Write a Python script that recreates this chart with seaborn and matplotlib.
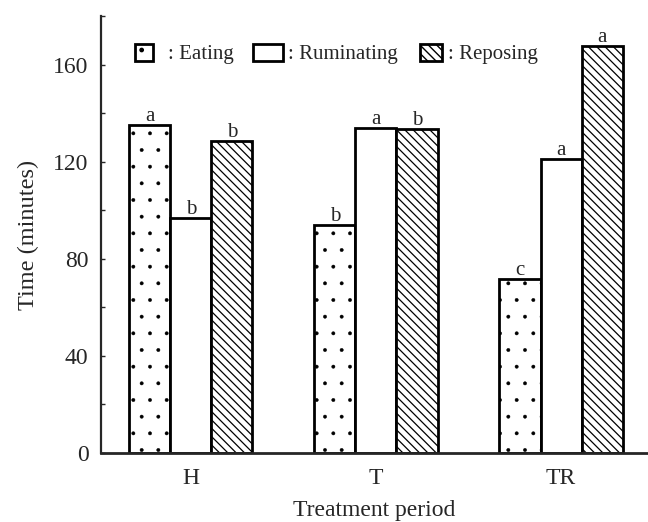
import pandas as pd
import matplotlib
matplotlib.use("Agg")
import matplotlib.pyplot as plt
from matplotlib.patches import Patch
from matplotlib.legend import Legend
from matplotlib.ticker import MultipleLocator
import seaborn as sns

# -----------------------------
# Data
# -----------------------------
periods = ["H", "T", "TR"]
behaviours = ["Eating", "Ruminating", "Reposing"]
eating = [135.3, 94.0, 71.8]
ruminating = [96.9, 134.0, 121.2]
reposing = [128.7, 133.5, 167.8]
eating_letters = ["a", "b", "c"]
ruminating_letters = ["b", "a", "a"]
reposing_letters = ["b", "b", "a"]

hatches = [".", "", "\\\\\\\\"]
hatch_lw = [0.3, 1.0, 0.9]

df = pd.DataFrame({
    "Period": periods * 3,
    "Behaviour": [b for b in behaviours for _ in periods],
    "Time": eating + ruminating + reposing,
})
letters = [eating_letters, ruminating_letters, reposing_letters]

# -----------------------------
# Style
# -----------------------------
sns.set_style("ticks")
plt.rcParams["font.family"] = ["Liberation Serif", "DejaVu Serif"]
plt.rcParams["hatch.color"] = "black"

fig = plt.figure(figsize=(6.48, 5.22), dpi=100)
ax = fig.add_axes([101 / 648, 69 / 522, 547 / 648, 437 / 522])

sns.barplot(data=df, x="Period", y="Time", hue="Behaviour", order=periods,
            hue_order=behaviours, palette=["white"] * 3, edgecolor="black",
            linewidth=2, width=0.665, gap=0, saturation=1, legend=False, ax=ax)

for cont, h, hlw, labs in zip(ax.containers, hatches, hatch_lw, letters):
    for bar, lab in zip(cont, labs):
        bar.set_hatch(h)
        bar.set_hatch_linewidth(hlw)
        ax.text(bar.get_x() + bar.get_width() / 2, bar.get_height() - 0.6, lab,
                ha="center", va="bottom", fontsize=15)

# -----------------------------
# Axes
# -----------------------------
ax.set_xlim(-0.486, 2.47)
ax.set_ylim(0, 180)
ax.yaxis.set_major_locator(MultipleLocator(40))
ax.yaxis.set_minor_locator(MultipleLocator(20))
ax.tick_params(axis="y", which="both", direction="in", length=3, width=1, labelsize=17, pad=9)
ax.tick_params(axis="x", length=0, labelsize=17, pad=11)
ax.set_xlabel("Treatment period", fontsize=17, labelpad=8)
ax.set_ylabel("Time (minutes)", fontsize=17.5, labelpad=10)
sns.despine(ax=ax)
ax.spines["left"].set_linewidth(1.6)
ax.spines["bottom"].set_linewidth(2)

# legend: one entry per box so each key can have its own width
leg_x = [0.062, 0.278, 0.583]
leg_len = [0.87, 1.45, 1.05]
leg_pad = [0.7, 0.25, 0.3]
for b, h, x, hl, tp in zip(behaviours, hatches, leg_x, leg_len, leg_pad):
    patch = Patch(facecolor="white", edgecolor="black", hatch=h, linewidth=2)
    leg = Legend(ax, [patch], [": " + b], loc="center left",
                 bbox_to_anchor=(x, 0.913), frameon=False, fontsize=15,
                 handlelength=hl, handleheight=0.87, handletextpad=tp,
                 borderpad=0, borderaxespad=0)
    ax.add_artist(leg)

plt.savefig("out.png", dpi=100)
